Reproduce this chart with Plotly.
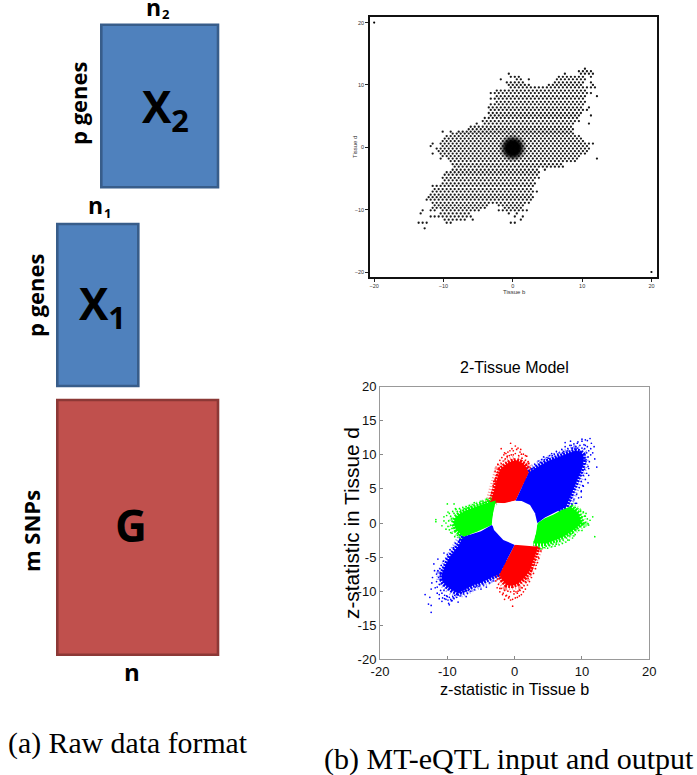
import plotly.graph_objects as go

W, H = 697, 775

# ---------- top panel: hexbin rows (y, occupied x-runs)
HEX_ROW_Y = [12.6,12.2,11.8,11.3,10.9,10.4,10.0,9.6,9.1,8.7,8.2,7.8,7.3,6.9,6.4,6.0,5.5,5.1,4.7,4.2,3.8,3.3,2.9,2.5,
             2.2,1.8,1.4,1.0,0.6,0.2,-0.2,-0.6,-1.0,-1.4,-1.8,-2.2,-2.7,-3.1,-3.6,-4.0,-4.4,-4.9,-5.3,-5.8,-6.2,-6.7,
             -7.1,-7.6,-8.0,-8.4,-8.9,-9.3,-9.7,-10.1,-10.6,-11.1,-11.6,-12.1,-13.0]
HEX_ROW_RUNS = [
 [(10.3,10.3)],[(9.8,11.2)],[(-0.6,-0.6),(7.4,7.4),(10,11.5)],[(-0.4,0.8),(6.9,10.3),(11.3,11.3)],
 [(-1.7,-1.7),(0.6,1.2),(2.3,2.3),(6.5,10.5)],[(-0.8,1.5),(5.9,10.3),(11,11.5)],[(-0.6,2.5),(5,9.8),(11.6,11.6)],
 [(-0.3,3),(3.8,11.9)],[(-2.6,-0.9),(-0.5,10.5)],[(-2.9,10.8),(11.3,11.3)],[(-2.6,10.5),(12.2,12.2)],[(-2.9,10.3)],
 [(-2.6,10.3)],[(-3.3,10)],[(-3.2,10),(10.9,10.9)],[(-3.3,10.5)],[(-3.4,9.8)],[(-3.4,9.6),(11,11)],[(-4,9.4)],[(-4.4,9.8)],
 [(-5.2,-5.2),(-4.2,8.8),(10.8,10.8)],[(-6,8.6)],[(-6.5,8.6)],[(-10,-10),(-9,-9),(-8,-7.5),(-6.5,8.6)],
 [(-8.6,8.8)],[(-9.8,-9.5),(-8.8,9.5)],[(-10,10)],[(-10,10.4)],[(-11.6,-11.6),(-10.2,11.4)],[(-11.9,-11.9),(-10.2,10.6)],
 [(-11,10.8)],[(-10.5,10.5)],[(-11.5,-11.5),(-10.2,10.4)],[(-10,9.4)],[(-10.2,-10.2),(-9.5,9.2),(12,12)],[(-9.2,9)],
 [(-8.6,7)],[(-8.2,6.4),(7.4,7.4)],[(-8.8,3.6),(4.9,4.9)],[(-9.6,4)],[(-9.8,3.7)],[(-10,3.8)],[(-10,3)],[(-10.3,3.1)],
 [(-11.3,2.7)],[(-11.3,2.7)],[(-11.3,2.7),(3.5,3.5)],[(-11.8,2.7)],[(-12,2.7)],[(-12.2,2.5)],[(-11.8,2.3)],
 [(-11.3,-4),(-2,1.5)],[(-11.5,-4),(-1.2,1.3)],[(-13.2,-13.2),(-12,-11.5),(-10,-5),(-2.3,1.5),(2.3,2.3)],
 [(-13.5,-13.5),(-10.5,-6.5),(-0.5,-0.5),(0.8,0.8)],[(-12,-12),(-11.2,-6),(0.5,0.5),(1.2,1.2)],
 [(-10,-8),(-7.5,-7.2),(-5.5,-5.5),(1,1)],[(-13.3,-13.3),(-12.8,-12.8),(-12.2,-12.2),(-9.7,-9.2),(-0.5,0)],[(-12.6,-12.6)],
]
HEX_STEP = 0.578
CORNER_X = [-20, 20]
CORNER_Y = [20, -20]
CORE_X = [0.0, 0.0, 0.0, 0.0, 0.0, 0.0]
CORE_Y = [-0.1, -0.1, -0.1, -0.1, -0.1, -0.1]
CORE_SIZE = [28, 25, 22, 20, 17, 14]
CORE_ALPHA = [0.12, 0.2, 0.3, 0.45, 0.7, 0.95]
TOP_TICKS = [-20, -10, 0, 10, 20]

# ---------- bottom panel: region outlines
BLUE_UR_X = [0.15,1.1,2.1,3,4,5,6,7,8,9,9.7,10.2,10.2,10,9.6,9.1,8.6,8.1,7.6,6.5,5.5,4.5,3.4,1.0]
BLUE_UR_Y = [3.3,5.3,7.4,8.0,8.6,9.1,9.5,9.9,10.2,10.6,10.5,10,9,8,7,5.8,4.6,3.4,2.3,1.8,1.3,0.8,0.0,1.0]
BLUE_LL_X = [-3.4,-5,-7.6,-8.4,-9.6,-10.3,-10.8,-10.8,-10.3,-9.4,-8.4,-7.2,-6.1,-5.1,-4.2,-3.2,-2.2,-1.1,0.0]
BLUE_LL_Y = [-0.3,-1.2,-2.0,-3.4,-4.9,-6.2,-7.4,-8.4,-9.1,-9.8,-10.3,-9.7,-9.1,-8.8,-8.4,-7.9,-7.4,-5.3,-3.2]
RED_UP_X = [-3.56,-2.9,-2.6,-2.2,-1.4,-0.6,0.2,1.0,1.5,2.1,1.1,0.15,-1.2]
RED_UP_Y = [3.0,5.3,6.6,7.8,8.5,9.0,9.2,8.9,8.5,7.4,5.3,3.3,2.9]
RED_LO_X = [0.0,1.8,3.5,3.0,2.3,1.5,0.5,-0.4,-1.2,-1.9,-2.3,-1.1]
RED_LO_Y = [-3.2,-3.3,-3.5,-4.9,-6.9,-8.0,-8.9,-9.2,-9.1,-8.3,-7.6,-5.3]
GREEN_R_X = [3.4,4.5,5.7,7,8.2,9,9.5,10,9,8.2,7.2,6,4.75,2.8]
GREEN_R_Y = [0.0,0.7,1.2,1.9,2.4,1.9,1.4,0.0,-0.8,-1.4,-2.0,-2.5,-3.0,-3.0]
GREEN_L_X = [-3.2,-2.8,-4.2,-5.6,-6.8,-8.1,-8.8,-9.1,-8.6,-7.6,-6.6,-5.6,-3.4]
GREEN_L_Y = [1.4,3.3,2.9,2.4,2.0,1.4,0.8,0.0,-1.1,-2.0,-1.7,-1.3,-0.3]
HOLE_X = [-0.05,-1.19,-2.67,-3.17,-3.37,-3.07,-1.68,-0.05,1.78,2.77,3.17,3.37,3.02,2.28,1.04]
HOLE_Y = [3.28,2.98,2.64,1.42,-0.05,-1.03,-2.49,-3.18,-2.89,-2.64,-1.52,-0.05,1.42,2.64,3.23]

BLUE_DOT_X = [-13.3,-12.8,-12.4,-12.4,-11.2,-11.8,-12.2,-11.6,-12.0,-10.8,-10.2,-9.8,-9.7,-11.5,-12.4,-12.6,
              10.8,11.2,11.4,12.2,11.9,10.6,11.0,11.6,9.3,8.4,7.5,10.2,10.9,11.3,9.9,9.2,8.3,
              -12.3,-11.9,-11.4,-10.5,-9.3,-8.4,-7.2,10.5,11.8,11.0,9.9,10.0,
              3,3.5,4,4.3,4.8,5.2,5.5,5.9,6.2,6.6,7,7.3,7.5,7.9,8.2,8.5,8.8,9.1,9.4,9.7,10,10.3,10.5,10.8,10.4,11,
              10.7,11.3,10.9,10.6,11.1,10.5,10.9,10.4,10.7,10.2,10.5,9.9,10.1,9.6,9.9,9.2,9.5,8.8,9,8.5,
              2.6,3.2,3.8,4.4,5,5.6,6.4,7.1,7.8,8.6,9.3,10,9.8,10.3,10.1,
              -8.2,-8.8,-9.1,-9.6,-10,-10.2,-10.6,-10.9,-11.1,-11.4,-11,-11.3,-11.6,-11.2,-11.5,-11,-10.8,-11.2,-10.4,-10.7,
              -10.1,-10.4,-9.7,-9.9,-9.2,-9.5,-8.9,-9.1,-8.4,-8.6,-7.9,-8.1,-7.4,-7.6,-6.9,-7.0,-6.4,-6.5,-5.8,-6.0,-5.3,-5.0,-4.6,-4.2,-3.7,-3.2,
              -9.0,-9.4,-10.0,-10.5,-10.9,-8.8,-8,-7.3]
BLUE_DOT_Y = [-10.5,-11.9,-12.1,-13.1,-11.1,-9.5,-8.0,-7.5,-6.0,-11.5,-11.2,-11.8,-12.0,-10.3,-9.7,-10.9,
              12.1,12.4,11.7,8.2,9.4,9.0,7.0,10.3,11.7,11.4,11.8,5.4,5.9,10.9,3.8,2.9,12.0,
              -8.8,-7.0,-5.3,-4.4,-11.4,-11.6,-10.8,11.4,11.2,8.0,4.7,12.3,
              8.6,9.1,9.3,9.7,9.6,9.9,10.2,10.1,10.5,10.3,10.8,10.5,11.2,10.9,11.4,11,11.6,11.2,11.9,11.4,12,11.5,12.2,11.2,10.9,10.6,
              10.3,10,9.7,9.3,9,8.7,8.3,7.9,7.3,7,6.4,6.1,5.5,5.2,4.6,4.2,3.7,3.4,2.9,2.8,
              8.0,8.4,8.9,9.3,9.5,9.9,10.1,10.3,10.6,11,11,11,10.5,9.4,8.4,
              -2.6,-3,-3.6,-3.9,-4.6,-5.2,-5.6,-6.2,-6.7,-7,-7.6,-8,-8.6,-9,-9.4,-9.9,-10.3,-10.5,-10.6,-11,
              -10.7,-11.1,-10.9,-11.3,-10.8,-11.2,-10.6,-11,-10.5,-10.9,-10.2,-10.7,-10,-10.4,-9.9,-10.3,-9.6,-10,-9.4,-9.8,-9.3,-9.7,-9.1,-9.4,-8.8,-8.5,
              -11.1,-11.4,-10.8,-9.9,-8.9,-3.5,-3.1,-2.7]
RED_DOT_X = [-0.6,-1.5,0.5,-0.2,1.0,-2.5,1.6,-1.1,0.1,-2.0,0.9,2.0,-3.1,-2.7,
             -0.3,-0.6,-0.9,0.1,-1.2,0.4,-2.2,-1.8,1.1,1.6,2.4,3.2,3.5,-1.5,-0.1,0.7,
             -3.3,-3.4,-3.0,-3.2,-2.9,-2.8,-2.6,-2.9,-2.3,-2.5,-2.0,-2.2,-1.7,-1.9,-1.4,-1.6,-1.1,-1.3,-0.8,-1,-0.5,-0.7,-0.2,-0.4,0.1,0.3,0.6,0.8,1.1,1.3,1.6,1.8,1.4,2.1,2.3,2.0,
             3.6,3.9,3.3,3.6,3.1,3.4,2.9,3.1,2.6,2.8,2.3,2.5,2.0,2.2,1.7,1.9,1.4,1.6,1.1,1.3,0.8,1.0,0.5,0.7,0.2,0.4,-0.1,-0.3,-0.6,-0.8,-1.0,-1.3,-1.5,-1.7,-2.0,-2.2,-2.4,-2.6,-2.8,-2.5]
RED_DOT_Y = [11.7,10.3,11.0,10.6,10.1,8.6,9.9,9.8,11.3,10.9,10.8,9.0,6.1,7.0,
             -12.2,-11.3,-11.0,-11.0,-10.6,-10.3,-9.6,-10.5,-9.5,-8.6,-7.6,-6.2,-5.0,-11.2,-10.4,-9.8,
             3.5,4.4,4.9,5.5,6.4,5.9,7.1,7.6,8.1,8.6,8.7,9.2,9.1,9.6,9.4,10,9.7,10.2,9.9,10.4,10,10.6,10.0,10.9,10.2,10.8,9.9,10.4,9.5,10.1,9.2,9.8,8.9,8.7,8.1,8.3,
             -3.8,-4.1,-4.6,-5.2,-5.4,-5.8,-6.1,-6.7,-6.8,-7.4,-7.5,-8.0,-8.1,-8.6,-8.7,-9.1,-9.2,-9.7,-9.5,-10.1,-9.9,-10.5,-10,-10.7,-10.1,-10.9,-10,-11.2,-10.1,-10.8,-10,-10.7,-9.9,-10.3,-9.6,-10.1,-9.0,-9.5,-8.5,-8.2]
GREEN_DOT_X = [11.9,11.6,11.2,10.5,10.2,9.8,9.2,11.0,10.0,7.9,6.2,5.1,4.2,8.8,
               -11.7,-11.7,-10.0,-9.0,-9.9,-10.5,-10.8,-8.3,-7.3,-6.0,-5.0,-4.0,-10.2,-9.5,-8.8,
               8.6,9.0,9.4,9.8,10.2,10.6,9.6,10,10.4,10.8,10.1,10.5,10.9,9.5,9.9,10.3,9.1,9.5,8.6,9,8.2,8.6,7.7,8.1,7.2,7.6,6.7,7.1,6.2,6.6,5.7,6,5.2,5.5,4.7,4.9,4.1,4.4,3.6,3.9,
               -3.5,-4,-4.5,-5,-5.5,-6,-6.5,-7,-7.5,-8,-8.5,-9,-9.5,-4.2,-4.7,-5.2,-5.7,-6.2,-6.7,-7.2,-7.7,-8.2,-8.7,-9.2,-9.7,-10.1,-9.4,-9.8,-10.2,-10.5,-9.5,-9.9,-9.3,-9.7,-8.9,-9.3,-8.5,-8.9,-8.2]
GREEN_DOT_Y = [-2.0,0.9,0.4,1.0,1.6,1.7,2.0,-0.3,-1.1,-2.5,-3.1,-3.3,-3.6,-1.9,
               0.5,0.2,2.8,2.8,1.6,0.9,-0.4,-1.7,-2.5,3.0,3.2,3.4,-0.9,-1.4,2.1,
               2.6,2.3,2.1,1.9,1.6,1.4,1.1,0.9,1.0,0.6,0.4,0.1,-0.1,0.0,-0.4,-0.6,-0.9,-1.1,-1.5,-1.7,-1.9,-2.2,-2.2,-2.5,-2.5,-2.8,-2.7,-3.0,-2.9,-3.2,-3.1,-3.4,-3.3,-3.5,-3.4,-3.7,-3.4,-3.6,-3.5,-3.8,
               3.5,3.2,3.0,2.8,2.7,2.6,2.4,2.2,2.1,1.9,1.7,1.4,1.0,3.5,3.2,3.0,2.9,2.7,2.6,2.4,2.3,2.1,2.0,1.7,1.4,1.1,0.6,0.3,0.0,0.3,-0.3,-0.5,-0.8,-1.0,-1.3,-1.5,-1.8,-2.0,-2.1]
BOT_YTICKS = [-20, -15, -10, -5, 0, 5, 10, 15, 20]
BOT_YLABELS = ["-20", "-15", "-10", "-5", "0", "5", "10", "15", "20"]
BOT_XTICKS = [-20, -10, 0, 10, 20]
BOT_XLABELS = ["-20", "-10", "0", "10", "20"]

BOXES = [("#4f81bd", "#385d8a", 101.3, 218, 24.7, 187.3),
         ("#4f81bd", "#385d8a", 57.3, 138.3, 224, 386),
         ("#c0504d", "#8c3836", 57.3, 218, 400, 654.7)]


def px(x):
    return x / W


def py(y):
    return 1 - y / H


hx, hy = [], []
for i, (yv, runs) in enumerate(zip(HEX_ROW_Y, HEX_ROW_RUNS)):
    off = HEX_STEP / 2 if i % 2 else 0.0
    for a, b in runs:
        for k in range(round((a - off) / HEX_STEP), round((b - off) / HEX_STEP) + 1):
            hx.append(k * HEX_STEP + off)
            hy.append(yv)

fig = go.Figure()
fig.add_trace(go.Scatter(x=hx, y=hy, mode="markers", xaxis="x", yaxis="y", showlegend=False,
                         marker=dict(color="#000000", size=2.3, line=dict(width=0), opacity=0.9)))
fig.add_trace(go.Scatter(x=CORNER_X, y=CORNER_Y, mode="markers", xaxis="x", yaxis="y", showlegend=False,
                         marker=dict(color="#000000", size=2.2, line=dict(width=0))))
fig.add_trace(go.Scatter(x=CORE_X, y=CORE_Y, mode="markers", xaxis="x", yaxis="y", showlegend=False,
                         marker=dict(color="#000000", size=CORE_SIZE, opacity=CORE_ALPHA, line=dict(width=0))))

# outer arcs of the lobes, stroked with a broken line to give the speckled edge
ARCS = [(RED_UP_X[0:11], RED_UP_Y[0:11], "255,0,0"), (RED_LO_X[2:12], RED_LO_Y[2:12], "255,0,0"),
        (GREEN_R_X[4:14], GREEN_R_Y[4:14], "0,255,0"), (GREEN_L_X[1:11], GREEN_L_Y[1:11], "0,255,0"),
        (BLUE_UR_X[2:20], BLUE_UR_Y[2:20], "0,0,255"), (BLUE_LL_X[2:18], BLUE_LL_Y[2:18], "0,0,255")]
for xs, ys, c in ARCS:
    fig.add_trace(go.Scatter(x=xs, y=ys, mode="lines", xaxis="x2", yaxis="y2", showlegend=False, hoverinfo="skip",
                             line=dict(color=f"rgba({c},0.45)", width=11, dash="1px,2px")))
    fig.add_trace(go.Scatter(x=xs, y=ys, mode="lines", xaxis="x2", yaxis="y2", showlegend=False, hoverinfo="skip",
                             line=dict(color=f"rgb({c})", width=5, dash="2px,1px")))


def region(xs, ys, colour):
    fig.add_trace(go.Scatter(x=xs, y=ys, mode="lines", fill="toself", fillcolor=colour,
                             line=dict(width=0), xaxis="x2", yaxis="y2", showlegend=False, hoverinfo="skip"))


for xs, ys, c in [(GREEN_DOT_X, GREEN_DOT_Y, "#00ff00"), (RED_DOT_X, RED_DOT_Y, "#ff0000"),
                  (BLUE_DOT_X, BLUE_DOT_Y, "#0000ff")]:
    fig.add_trace(go.Scatter(x=xs, y=ys, mode="markers", xaxis="x2", yaxis="y2", showlegend=False,
                             marker=dict(color=c, size=1.7, line=dict(width=0))))
for xs, ys, c in [(RED_UP_X, RED_UP_Y, "#ff0000"), (RED_LO_X, RED_LO_Y, "#ff0000"),
                  (GREEN_R_X, GREEN_R_Y, "#00ff00"), (GREEN_L_X, GREEN_L_Y, "#00ff00"),
                  (BLUE_UR_X, BLUE_UR_Y, "#0000ff"), (BLUE_LL_X, BLUE_LL_Y, "#0000ff")]:
    region(xs, ys, c)
region(HOLE_X, HOLE_Y, "#ffffff")

shapes = [dict(type="rect", xref="paper", yref="paper", x0=px(a), x1=px(b), y0=py(d), y1=py(c),
               fillcolor=f, line=dict(color=l, width=2.6), layer="below")
          for f, l, a, b, c, d in BOXES]

BOLD = "Open Sans"
SERIF = "Liberation Serif"


def label(text, x, y, size, family=BOLD, rot=0, colour="#000000"):
    return dict(text=text, x=px(x), y=py(y), xref="paper", yref="paper", showarrow=False, textangle=rot,
                xanchor="center", yanchor="middle", font=dict(family=family, size=size, color=colour))


annotations = [
    label("<b>n</b>", 153, 7, 23),
    label("<b>2</b>", 166, 14, 13),
    label("<b>n</b>", 95, 205, 23),
    label("<b>1</b>", 108, 213, 13),
    label("<b>n</b>", 132, 671, 24),
    label("<b>p genes</b>", 78, 103, 22, rot=-90),
    label("<b>p genes</b>", 35, 295, 22, rot=-90),
    label("<b>m SNPs</b>", 31, 531, 22, rot=-90),
    label("<b>X<sub>2</sub></b>", 165, 108, 44),
    label("<b>X<sub>1</sub></b>", 102, 306, 44),
    label("<b>G</b>", 130.5, 525, 44),
    label("(a) Raw data format", 128, 743, 29.8, SERIF),
    label("(b) MT-eQTL input and output", 509, 759, 30, SERIF),
    label("2-Tissue Model", 514, 367, 16, "Liberation Sans"),
    label("z-statistic in Tissue b", 514, 689, 16.2, "Liberation Sans"),
    label("z-statistic in Tissue d", 351, 523, 20.8, "Liberation Sans", rot=-90),
    label("Tissue b", 514, 292, 6, "Liberation Sans", colour="#333333"),
    label("Tissue d", 355, 147, 6, "Liberation Sans", rot=-90, colour="#333333"),
]

fig.update_layout(
    width=W, height=H, margin=dict(l=0, r=0, t=0, b=0, autoexpand=False), paper_bgcolor="white", plot_bgcolor="white",
    autosize=False, shapes=shapes, annotations=annotations, showlegend=False,
    xaxis=dict(domain=[px(370), px(657)], range=[-20.6, 20.8], tickvals=TOP_TICKS, ticks="outside", ticklen=3,
               tickwidth=1, tickcolor="#222222", showgrid=False, zeroline=False, showline=True, mirror=True,
               linecolor="#111111", linewidth=1.5, tickfont=dict(family="Liberation Sans", size=5.5, color="#333333"),
               anchor="y"),
    yaxis=dict(domain=[py(277), py(17)], range=[-20.8, 20.9], tickvals=TOP_TICKS, ticks="outside", ticklen=3,
               tickwidth=1, tickcolor="#222222", showgrid=False, zeroline=False, showline=True, mirror=True,
               linecolor="#111111", linewidth=1.5, tickfont=dict(family="Liberation Sans", size=5.5, color="#333333"),
               anchor="x"),
    xaxis2=dict(domain=[px(380), px(649.3)], range=[-20, 20], tickvals=BOT_XTICKS, ticktext=BOT_XLABELS, ticks="inside",
                ticklen=3, tickwidth=1, tickcolor="#888888", showgrid=False, zeroline=False, showline=True, mirror=True,
                linecolor="#999999", linewidth=1, tickfont=dict(family="Liberation Sans", size=13, color="#111111"),
                anchor="y2"),
    yaxis2=dict(domain=[py(659.3), py(386.7)], range=[-20, 20], tickvals=BOT_YTICKS, ticktext=BOT_YLABELS, ticks="inside",
                ticklen=3, tickwidth=1, tickcolor="#888888", showgrid=False, zeroline=False, showline=True, mirror=True,
                linecolor="#999999", linewidth=1, tickfont=dict(family="Liberation Sans", size=13, color="#111111"),
                anchor="x2"),
)
fig.write_html("out.html", config={"displayModeBar": False},
               post_script="document.body.style.margin='0';")
